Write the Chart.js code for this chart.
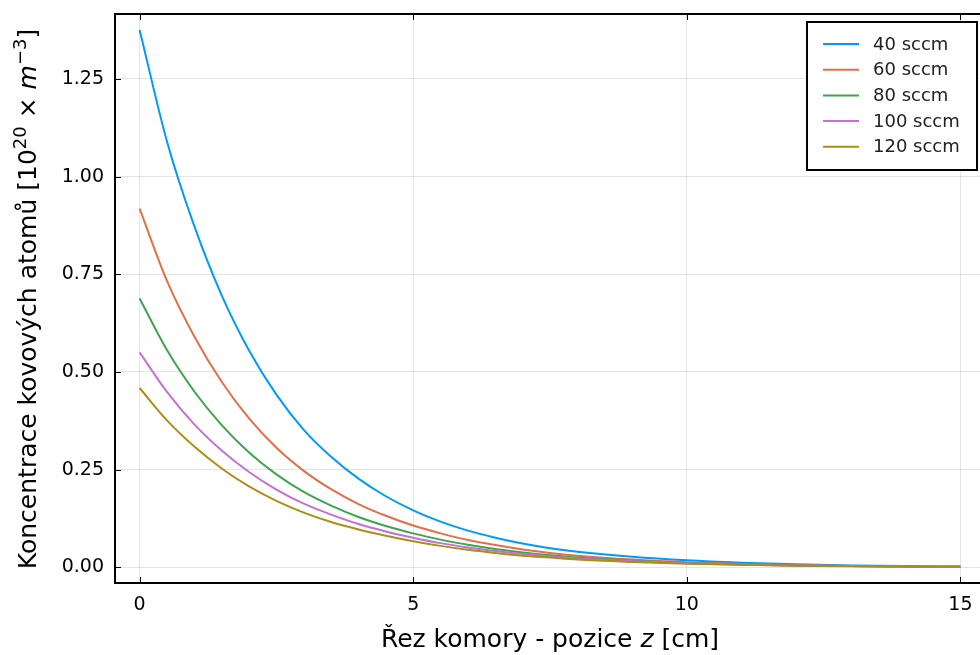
<!DOCTYPE html>
<html>
<head>
  <script src="https://cdn.jsdelivr.net/npm/chart.js"></script>
  <title>Koncentrace kovových atomů</title>
  <style>
    html, body { margin: 0; padding: 0; background: #fff; overflow: hidden; }
    #wrap { width: 990px; height: 655px; }
  </style>
</head>
<body>
  <div id="wrap"><canvas id="c" width="990" height="655"></canvas></div>

  <script>
    // position along the chamber [cm]
    const zs = [0, 0.5, 1, 1.5, 2, 2.5, 3, 3.5, 4, 4.5, 5, 5.5, 6, 6.5, 7, 7.5, 8, 9, 10, 11, 12, 13, 14, 15];

    // metal atom concentration [1e20 m^-3]
    const sccm40  = [1.375, 1.090, 0.873, 0.696, 0.555, 0.442, 0.352, 0.283, 0.227, 0.182, 0.146, 0.117, 0.094, 0.076, 0.061, 0.049, 0.040, 0.027, 0.018, 0.012, 0.0078, 0.0050, 0.0032, 0.0020];
    const sccm60  = [0.918, 0.733, 0.591, 0.475, 0.381, 0.306, 0.247, 0.200, 0.162, 0.132, 0.107, 0.087, 0.070, 0.057, 0.046, 0.037, 0.030, 0.020, 0.013, 0.0085, 0.0056, 0.0037, 0.0024, 0.0016];
    const sccm80  = [0.688, 0.556, 0.450, 0.364, 0.294, 0.238, 0.193, 0.158, 0.129, 0.106, 0.087, 0.071, 0.058, 0.047, 0.038, 0.031, 0.025, 0.017, 0.011, 0.0075, 0.0050, 0.0033, 0.0022, 0.0015];
    const sccm100 = [0.550, 0.449, 0.366, 0.299, 0.244, 0.199, 0.163, 0.135, 0.111, 0.092, 0.076, 0.062, 0.051, 0.042, 0.034, 0.028, 0.023, 0.0155, 0.0105, 0.0070, 0.0047, 0.0032, 0.0021, 0.0014];
    const sccm120 = [0.459, 0.376, 0.309, 0.253, 0.207, 0.170, 0.140, 0.116, 0.097, 0.081, 0.067, 0.055, 0.045, 0.037, 0.030, 0.025, 0.020, 0.014, 0.0095, 0.0064, 0.0043, 0.0029, 0.0019, 0.0013];

    const labels = ['40 sccm', '60 sccm', '80 sccm', '100 sccm', '120 sccm'];
    const series = [sccm40, sccm60, sccm80, sccm100, sccm120];
    const colors = ['#009AFA', '#E36F47', '#3EA44E', '#C371D2', '#AC8E18'];

    const FONT = '"DejaVu Sans", sans-serif';

    // frame, inward tick marks, axis titles and legend box
    const decorations = {
      id: 'decorations',
      afterDatasetsDraw(chart) {
        const ctx = chart.ctx;
        const a = chart.chartArea;
        const xs = chart.scales.x, ys = chart.scales.y;
        ctx.save();

        // tick marks pointing into the plot
        ctx.strokeStyle = '#000';
        ctx.lineWidth = 1;
        xs.ticks.forEach(t => {
          const px = Math.round(xs.getPixelForValue(t.value)) + 0.5;
          ctx.beginPath();
          ctx.moveTo(px, a.bottom); ctx.lineTo(px, a.bottom - 6);
          ctx.moveTo(px, a.top); ctx.lineTo(px, a.top + 6);
          ctx.stroke();
        });
        ys.ticks.forEach(t => {
          const py = Math.round(ys.getPixelForValue(t.value)) + 0.5;
          ctx.beginPath();
          ctx.moveTo(a.left, py); ctx.lineTo(a.left + 6, py);
          ctx.stroke();
        });

        // box frame
        ctx.lineWidth = 2;
        ctx.strokeRect(a.left, a.top, a.right - a.left, a.bottom - a.top);

        // x title
        ctx.fillStyle = '#000';
        ctx.textBaseline = 'alphabetic';
        drawRich(ctx, [
          ['Řez komory - pozice ', 'n'], ['z', 'i'], [' [cm]', 'n']
        ], 550, 647, 25);

        // y title, rotated
        ctx.save();
        ctx.translate(36, 299);
        ctx.rotate(-Math.PI / 2);
        drawRich(ctx, [
          ['Koncentrace kovových atomů [10', 'n'], ['20', 's'], [' × ', 'n'],
          ['m', 'i'], ['−3', 's'], [']', 'n']
        ], 0, 0, 25);
        ctx.restore();

        // legend
        const lx = 807, ly = 22, lw = 170, lh = 148;
        ctx.fillStyle = '#fff';
        ctx.fillRect(lx, ly, lw, lh);
        ctx.lineWidth = 2;
        ctx.strokeStyle = '#000';
        ctx.strokeRect(lx, ly, lw, lh);
        ctx.font = '18px ' + FONT;
        ctx.textBaseline = 'middle';
        ctx.textAlign = 'left';
        chart.data.datasets.forEach((ds, i) => {
          const y = ly + 22 + i * 25.7;
          ctx.strokeStyle = ds.borderColor;
          ctx.lineWidth = 2;
          ctx.beginPath();
          ctx.moveTo(lx + 16, y); ctx.lineTo(lx + 52, y);
          ctx.stroke();
          ctx.fillStyle = '#222';
          ctx.fillText(ds.label, lx + 66, y + 1);
        });
        ctx.restore();
      }
    };

    // text made of normal / italic / superscript pieces, centred on cx
    function drawRich(ctx, parts, cx, y, size) {
      const fontOf = k => k === 's' ? (Math.round(size * 0.7) + 'px ' + FONT)
                        : k === 'i' ? ('italic ' + size + 'px ' + FONT)
                        : (size + 'px ' + FONT);
      let total = 0;
      parts.forEach(p => { ctx.font = fontOf(p[1]); total += ctx.measureText(p[0]).width; });
      let x = cx - total / 2;
      ctx.textAlign = 'left';
      parts.forEach(p => {
        ctx.font = fontOf(p[1]);
        const dy = p[1] === 's' ? -size * 0.42 : 0;
        ctx.fillText(p[0], x, y + dy);
        x += ctx.measureText(p[0]).width;
      });
    }

    // drop the label overflow padding chart.js reserves, so the frame sits where the layout says
    function noPad(s) {
      s.paddingTop = 0; s.paddingBottom = 0; s.paddingLeft = 0; s.paddingRight = 0;
    }

    const datasets = series.map((vals, i) => ({
      label: labels[i],
      data: zs.map((z, j) => ({ x: z, y: vals[j] })),
      borderColor: colors[i],
      backgroundColor: colors[i],
      borderWidth: 2,
      pointRadius: 0,
      fill: false,
      tension: 0.4,
      cubicInterpolationMode: 'monotone',
      order: series.length - 1 - i
    }));

    new Chart(document.getElementById('c').getContext('2d'), {
      type: 'line',
      data: { datasets: datasets },
      plugins: [decorations],
      options: {
        responsive: false,
        animation: false,
        layout: { padding: { top: 14, right: 5, left: 0, bottom: 0 } },
        plugins: { legend: { display: false }, tooltip: { enabled: false } },
        scales: {
          x: {
            type: 'linear',
            min: -0.45,
            max: 15.45,
            border: { display: false },
            grid: { color: 'rgba(0,0,0,0.1)', lineWidth: 1, drawTicks: false },
            ticks: {
              stepSize: 5,
              includeBounds: false,
              padding: 11,
              color: '#000',
              font: { family: FONT, size: 19 },
              maxRotation: 0
            },
            afterFit: s => { s.height = 72; noPad(s); }
          },
          y: {
            min: -0.04,
            max: 1.416,
            border: { display: false },
            grid: { color: 'rgba(0,0,0,0.1)', lineWidth: 1, drawTicks: false },
            ticks: {
              stepSize: 0.25,
              includeBounds: false,
              padding: 11,
              color: '#000',
              font: { family: FONT, size: 19 },
              callback: v => v.toFixed(2)
            },
            afterFit: s => { s.width = 115; noPad(s); }
          }
        }
      }
    });
  </script>
</body>
</html>
